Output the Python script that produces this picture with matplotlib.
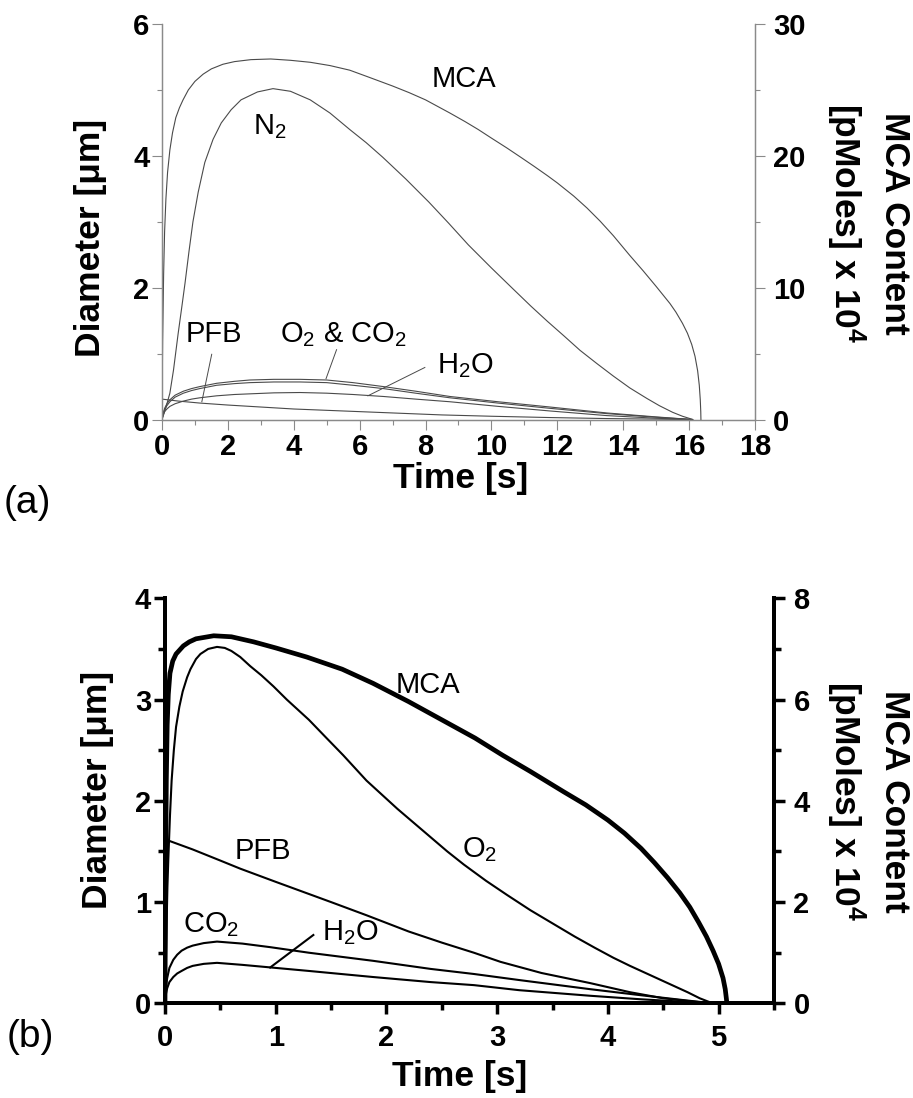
import matplotlib
matplotlib.use("Agg")
import matplotlib.pyplot as plt
from matplotlib.ticker import MultipleLocator

plt.rcParams['font.family'] = ['Liberation Sans', 'DejaVu Sans']
plt.rcParams['mathtext.fontset'] = 'custom'
plt.rcParams['mathtext.rm'] = 'Liberation Sans'
plt.rcParams['mathtext.it'] = 'Liberation Sans:italic'
plt.rcParams['mathtext.bf'] = 'Liberation Sans:bold'

# ---- panel (a): time [s], diameters [um], MCA content [pMoles x 1e4] ----
t_mca_a = [0, 0.02, 0.05, 0.08, 0.12, 0.17, 0.24, 0.32, 0.42, 0.53, 0.64, 0.8, 1.0, 1.25, 1.5,
           1.85, 2.2, 2.7, 3.3, 3.9, 4.5, 5.1, 5.7, 6.3, 7.0, 7.5, 8.0, 8.74, 9.2, 9.6, 10.0,
           10.47, 10.9, 11.3, 11.7, 12.0, 12.5, 12.9, 13.3, 13.7, 14.2, 14.6, 15.0, 15.42, 15.6,
           15.8, 15.95, 16.08, 16.18, 16.26, 16.31, 16.34, 16.355, 16.36]
mca_a = [0, 6, 11, 14.25, 16.75, 18.75, 20.45, 21.75, 22.9, 23.65, 24.25, 25, 25.65, 26.2, 26.6,
         26.95, 27.15, 27.3, 27.35, 27.25, 27.1, 26.85, 26.5, 25.95, 25.3, 24.8, 24.25, 23.25,
         22.6, 22, 21.35, 20.6, 19.88, 19.2, 18.5, 17.95, 16.95, 16.05, 15.05, 13.95, 12.45, 11.3,
         10.1, 8.8, 8.15, 7.3, 6.55, 5.7, 4.8, 3.7, 2.6, 1.5, 0.6, 0]

t_n2_a = [0, 0.1, 0.24, 0.35, 0.49, 0.6, 0.7, 0.82, 0.94, 1.1, 1.3, 1.55, 1.8, 2.1, 2.4, 2.9, 3.37,
          3.9, 4.5, 5.1, 5.7, 6.2, 6.7, 7.4, 8.1, 8.7, 9.3, 10.0, 10.66, 11.2, 11.7, 12.2, 12.69,
          13.2, 13.7, 14.2, 14.72, 15.1, 15.5, 15.8, 16.12]
n2_a = [0, 0.15, 0.4, 0.75, 1.3, 1.7, 2.07, 2.55, 3.0, 3.45, 3.9, 4.25, 4.5, 4.7, 4.85, 4.97, 5.02,
        4.98, 4.85, 4.65, 4.4, 4.2, 3.98, 3.65, 3.3, 2.98, 2.65, 2.3, 1.98, 1.72, 1.49, 1.27, 1.05,
        0.85, 0.66, 0.48, 0.32, 0.21, 0.11, 0.05, 0]

t_small_a = [0, 0.04, 0.08, 0.15, 0.24, 0.4, 0.65, 0.9, 1.15, 1.66, 2.2, 2.67, 3.4, 4.19, 5.0,
             5.8, 6.72, 7.7, 8.74, 10.2, 11.78, 13.5, 15.0, 16.1]
o2_a = [0, 0.1, 0.17, 0.24, 0.3, 0.37, 0.43, 0.47, 0.5, 0.55, 0.58, 0.6, 0.61, 0.61, 0.6,
        0.56, 0.5, 0.43, 0.35, 0.27, 0.19, 0.1, 0.04, 0]
co2_a = [0, 0.09, 0.15, 0.21, 0.27, 0.34, 0.4, 0.44, 0.47, 0.52, 0.545, 0.56, 0.57, 0.57, 0.56,
         0.52, 0.47, 0.4, 0.33, 0.25, 0.17, 0.09, 0.035, 0]
h2o_a = [0, 0.07, 0.12, 0.16, 0.2, 0.24, 0.28, 0.31, 0.33, 0.36, 0.38, 0.39, 0.405, 0.41, 0.4,
         0.38, 0.35, 0.31, 0.27, 0.2, 0.13, 0.06, 0.02, 0]

t_pfb_a = [0, 0.5, 1.15, 2, 3, 4, 5, 6, 7, 8.5, 10, 11.8, 13.5, 16.1]
pfb_a = [0.31, 0.28, 0.25, 0.22, 0.19, 0.16, 0.14, 0.12, 0.10, 0.07, 0.05, 0.03, 0.015, 0]

# ---- panel (b) ----
t_mca_b = [0, 0.005, 0.012, 0.02, 0.03, 0.045, 0.07, 0.1, 0.166, 0.22, 0.28, 0.44, 0.6, 0.8, 1.0,
           1.28, 1.6, 1.88, 2.2, 2.5, 2.8, 3.05, 3.3, 3.6, 3.8, 4.0, 4.15, 4.3, 4.42, 4.54, 4.65,
           4.74, 4.82, 4.89, 4.95, 5.0, 5.04, 5.06, 5.07, 5.075]
mca_b = [0, 2.4, 4.4, 5.5, 6.1, 6.52, 6.76, 6.9, 7.06, 7.14, 7.2, 7.26, 7.24, 7.14, 7.02,
         6.84, 6.6, 6.32, 5.96, 5.6, 5.24, 4.9, 4.58, 4.18, 3.92, 3.62, 3.36, 3.06, 2.78, 2.48, 2.18,
         1.9, 1.6, 1.32, 1.04, 0.78, 0.5, 0.28, 0.1, 0]

t_o2_b = [0, 0.008, 0.015, 0.022, 0.03, 0.045, 0.06, 0.08, 0.1, 0.13, 0.16, 0.2, 0.23, 0.28,
          0.32, 0.39, 0.47, 0.54, 0.6, 0.68, 0.77, 0.87, 0.98, 1.1, 1.2, 1.3, 1.45, 1.61, 1.82,
          1.96, 2.1, 2.25, 2.4, 2.55, 2.7, 2.9, 3.09, 3.3, 3.5, 3.7, 3.88, 4.05, 4.2, 4.38, 4.5,
          4.6, 4.72, 4.83, 4.9, 4.95]
o2_b = [0, 0.4, 0.8, 1.15, 1.42, 1.85, 2.2, 2.5, 2.73, 2.93, 3.08, 3.22, 3.3, 3.4,
        3.45, 3.5, 3.52, 3.51, 3.48, 3.42, 3.33, 3.24, 3.13, 3.0, 2.9, 2.8, 2.63, 2.45, 2.2,
        2.06, 1.92, 1.78, 1.64, 1.5, 1.37, 1.21, 1.07, 0.92, 0.79, 0.66, 0.55, 0.45, 0.37, 0.28,
        0.22, 0.17, 0.11, 0.05, 0.02, 0]

t_pfb_b = [0, 0.25, 0.5, 0.68, 1.0, 1.3, 1.5, 1.82, 2.2, 2.5, 2.79, 3.03, 3.4, 3.84, 4.2, 4.5, 4.75, 4.95]
pfb_b = [1.62, 1.52, 1.41, 1.33, 1.2, 1.08, 1.0, 0.87, 0.71, 0.6, 0.5, 0.41, 0.3, 0.2, 0.11, 0.05, 0.02, 0]

t_small_b = [0, 0.01, 0.02, 0.04, 0.075, 0.11, 0.15, 0.2, 0.25, 0.35, 0.47, 0.7, 0.95, 1.3,
             1.88, 2.4, 2.79, 3.2, 3.84, 4.3, 4.7, 4.95]
co2_b = [0.05, 0.17, 0.25, 0.35, 0.43, 0.48, 0.52, 0.55, 0.57, 0.595, 0.61, 0.59, 0.555, 0.5,
         0.42, 0.34, 0.29, 0.23, 0.14, 0.08, 0.03, 0]
h2o_b = [0.03, 0.1, 0.15, 0.21, 0.26, 0.295, 0.32, 0.35, 0.37, 0.39, 0.40, 0.38, 0.355, 0.32,
         0.26, 0.21, 0.18, 0.13, 0.075, 0.04, 0.015, 0]

W, H = 913, 1098
fig = plt.figure(figsize=(W / 100, H / 100), dpi=100)

TICK_FS = 21
LABEL_FS = 25.5
NOTE_FS = 21
ylab = 'Diameter [μm]'
rlab = 'MCA Content\n[pMoles] x 10$^{\\mathbf{4}}$'


def style_axes(ax, ax2, color, spine_w, major, minor, tick_w, lpad, rpad, xpad):
    for a in (ax, ax2):
        a.spines['top'].set_visible(False)
        for s in ('left', 'right', 'bottom'):
            a.spines[s].set_color(color)
            a.spines[s].set_linewidth(spine_w)
        a.tick_params(which='both', direction='out', color=color, width=tick_w, labelsize=TICK_FS)
        a.tick_params(which='major', length=major)
        a.tick_params(which='minor', length=minor)
        for lbl in a.get_xticklabels() + a.get_yticklabels():
            lbl.set_fontweight('bold')
    ax.tick_params(axis='y', pad=lpad)
    ax.tick_params(axis='x', pad=xpad)
    ax2.tick_params(axis='y', pad=rpad)


# ---------------- (a) ----------------
ax = fig.add_axes([0.1774, 0.6179, 0.6495, 0.3602])
ax2 = ax.twinx()
ax.set_xlim(0, 18)
ax.set_ylim(0, 6)
ax2.set_ylim(0, 30)
ax.xaxis.set_major_locator(MultipleLocator(2))
ax.xaxis.set_minor_locator(MultipleLocator(1))
ax.yaxis.set_major_locator(MultipleLocator(2))
ax.yaxis.set_minor_locator(MultipleLocator(1))
ax2.yaxis.set_major_locator(MultipleLocator(10))
ax2.yaxis.set_minor_locator(MultipleLocator(5))

lc = '#4a4a4a'
lw = 0.8
ax2.plot(t_mca_a, mca_a, color=lc, lw=lw)
ax.plot(t_n2_a, n2_a, color=lc, lw=lw)
ax.plot(t_small_a, o2_a, color=lc, lw=lw)
ax.plot(t_small_a, co2_a, color=lc, lw=lw)
ax.plot(t_small_a, h2o_a, color=lc, lw=lw)
ax.plot(t_pfb_a, pfb_a, color=lc, lw=lw)

style_axes(ax, ax2, '#8a8a8a', 0.9, 7, 3.5, 0.8, 2, 6, 2.5)

ax.text(8.2, 5.05, 'MCA', fontsize=NOTE_FS, va='baseline')
ax.text(2.76, 4.33, 'N$_2$', fontsize=NOTE_FS, va='baseline')
ax.text(0.73, 1.17, 'PFB', fontsize=NOTE_FS, va='baseline')
ax.text(3.58, 1.17, 'O$_2$ & CO$_2$', fontsize=NOTE_FS, va='baseline')
ax.text(8.35, 0.70, 'H$_2$O', fontsize=NOTE_FS, va='baseline')
ax.plot([1.51, 1.21], [0.99, 0.27], color=lc, lw=0.7)
ax.plot([5.30, 4.98], [1.06, 0.62], color=lc, lw=0.7)
ax.plot([7.98, 6.25], [0.79, 0.36], color=lc, lw=0.7)

ax.text(0.504, -0.148, 'Time [s]', transform=ax.transAxes, fontsize=LABEL_FS,
        fontweight='bold', ha='center', va='center')
ax.text(-0.12, 0.46, ylab, transform=ax.transAxes, fontsize=LABEL_FS,
        fontweight='bold', ha='center', va='center', rotation=90)
ax.text(1.19, 0.497, rlab, transform=ax.transAxes, fontsize=LABEL_FS,
        fontweight='bold', ha='center', va='center', rotation=270, linespacing=1.3)
fig.text(0.0296, 0.542, '(a)', fontsize=28, ha='center', va='center')

# ---------------- (b) ----------------
bx = fig.add_axes([0.1807, 0.0862, 0.6670, 0.3689])
bx2 = bx.twinx()
bx.set_xlim(0, 5.5)
bx.set_ylim(0, 4)
bx2.set_ylim(0, 8)
bx.xaxis.set_major_locator(MultipleLocator(1))
bx.xaxis.set_minor_locator(MultipleLocator(0.5))
bx.yaxis.set_major_locator(MultipleLocator(1))
bx.yaxis.set_minor_locator(MultipleLocator(0.5))
bx2.yaxis.set_major_locator(MultipleLocator(2))
bx2.yaxis.set_minor_locator(MultipleLocator(1))

bx2.plot(t_mca_b, mca_b, color='black', lw=3.4, solid_joinstyle='round')
bx.plot(t_o2_b, o2_b, color='black', lw=1.5)
bx.plot(t_pfb_b, pfb_b, color='black', lw=1.5)
bx.plot(t_small_b, co2_b, color='black', lw=1.5)
bx.plot(t_small_b, h2o_b, color='black', lw=1.5)

style_axes(bx, bx2, 'black', 2.8, 8, 5, 2.5, 2, 6, 7)

bx.text(2.08, 3.06, 'MCA', fontsize=NOTE_FS, va='baseline')
bx.text(2.68, 1.44, 'O$_2$', fontsize=NOTE_FS, va='baseline')
bx.text(0.63, 1.43, 'PFB', fontsize=NOTE_FS, va='baseline')
bx.text(0.166, 0.70, 'CO$_2$', fontsize=NOTE_FS, va='baseline')
bx.text(1.42, 0.62, 'H$_2$O', fontsize=NOTE_FS, va='baseline')
bx.plot([1.34, 0.95], [0.675, 0.354], color='black', lw=1.5)

bx.text(0.484, -0.18, 'Time [s]', transform=bx.transAxes, fontsize=LABEL_FS,
        fontweight='bold', ha='center', va='center')
bx.text(-0.11, 0.527, ylab, transform=bx.transAxes, fontsize=LABEL_FS,
        fontweight='bold', ha='center', va='center', rotation=90)
bx.text(1.154, 0.4995, rlab, transform=bx.transAxes, fontsize=LABEL_FS,
        fontweight='bold', ha='center', va='center', rotation=270, linespacing=1.3)
fig.text(0.0329, 0.0555, '(b)', fontsize=28, ha='center', va='center')

fig.savefig('out.png', dpi=100, facecolor='white')
